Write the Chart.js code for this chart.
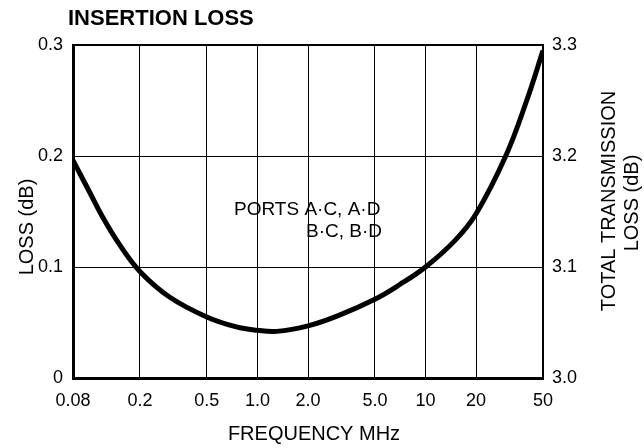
<!DOCTYPE html>
<html>
<head>
<meta charset="utf-8">
<script src="https://cdn.jsdelivr.net/npm/chart.js@4"></script>
<style>
  body { margin: 0; background: #fff; }
  canvas { display: block; }
</style>
</head>
<body>
<canvas id="myChart" width="644" height="448"></canvas>
<script>
// frequency (MHz) and loss (dB)
const freqMHz = [0.08, 0.1, 0.12, 0.15, 0.2, 0.3, 0.5, 0.75, 1.0, 1.3, 2.0, 3.0, 5.0, 7.0, 10, 15, 20, 30, 40, 50];
const lossDb = [0.196, 0.168, 0.145, 0.121, 0.096, 0.073, 0.055, 0.046, 0.043, 0.042, 0.047, 0.056, 0.071, 0.084, 0.100, 0.124, 0.148, 0.200, 0.250, 0.295];

const xTicks = [0.08, 0.2, 0.5, 1, 2, 5, 10, 20, 50];
const xTickLabels = ['0.08', '0.2', '0.5', '1.0', '2.0', '5.0', '10', '20', '50'];
const yTickLabels = ['0', '0.1', '0.2', '0.3'];
const y2TickLabels = ['3.0', '3.1', '3.2', '3.3'];

const FONT = '"Liberation Sans", Arial, sans-serif';

// titles and the little note inside the plot
const textPlugin = {
    id: 'texts',
    afterDraw(chart) {
        const ctx = chart.ctx;
        const area = chart.chartArea;
        ctx.save();
        ctx.fillStyle = '#000';
        ctx.textBaseline = 'alphabetic';

        ctx.font = 'bold 22px ' + FONT;
        ctx.textAlign = 'left';
        ctx.fillText('INSERTION LOSS', 68, 25);

        ctx.font = '20px ' + FONT;
        ctx.textAlign = 'center';
        ctx.fillText('FREQUENCY MHz', 314, 440);

        // rotated axis titles
        const vtext = (txt, x, y) => {
            ctx.save();
            ctx.translate(x, y);
            ctx.rotate(-Math.PI / 2);
            ctx.textAlign = 'center';
            ctx.fillText(txt, 0, 0);
            ctx.restore();
        };
        vtext('LOSS (dB)', 33, 227);
        vtext('TOTAL TRANSMISSION', 615, 201);
        vtext('LOSS (dB)', 638, 203);

        ctx.font = '19px ' + FONT;
        ctx.textAlign = 'left';
        ctx.fillText('PORTS A\u00b7C, A\u00b7D', area.left + 161, 215);
        ctx.fillText('B\u00b7C, B\u00b7D', area.left + 233, 237);
        ctx.restore();
    }
};

let myChart = document.getElementById('myChart').getContext('2d');

const lineChart = new Chart(myChart, {
    type: 'line',
    data: {
        datasets: [{
            label: 'Insertion loss',
            data: freqMHz.map((f, i) => ({ x: f, y: lossDb[i] })),
            borderColor: '#000',
            borderWidth: 5,
            tension: 0.4,
            pointRadius: 0,
            fill: false,
            yAxisID: 'y'
        }]
    },
    options: {
        responsive: false,
        animation: false,
        devicePixelRatio: 1,
        layout: { padding: { top: 45, left: 0, right: 0, bottom: 0 } },
        plugins: {
            legend: { display: false },
            tooltip: { enabled: false }
        },
        scales: {
            x: {
                type: 'logarithmic',
                min: 0.08,
                max: 50,
                afterBuildTicks: scale => {
                    scale.ticks = xTicks.map(v => ({ value: v }));
                },
                afterFit: scale => { scale.height = 70; },
                ticks: {
                    autoSkip: false,
                    maxRotation: 0,
                    padding: 12,
                    color: '#000',
                    font: { family: FONT, size: 18 },
                    callback: (value, index) => xTickLabels[index]
                },
                grid: {
                    color: '#000',
                    lineWidth: 1,
                    drawTicks: false
                },
                border: { display: true, color: '#000', width: 3 }
            },
            y: {
                position: 'left',
                min: 0,
                max: 0.3,
                ticks: {
                    stepSize: 0.1,
                    padding: 10,
                    color: '#000',
                    font: { family: FONT, size: 18 },
                    callback: (value, index) => yTickLabels[index]
                },
                afterFit: scale => { scale.width = 73; },
                grid: {
                    color: '#000',
                    lineWidth: ctx => (ctx.index === 3 ? 2 : 1),
                    drawTicks: false
                },
                border: { display: true, color: '#000', width: 3 }
            },
            y2: {
                position: 'right',
                min: 3.0,
                max: 3.3,
                ticks: {
                    stepSize: 0.1,
                    padding: 9,
                    color: '#000',
                    font: { family: FONT, size: 18 },
                    callback: (value, index) => y2TickLabels[index]
                },
                afterFit: scale => { scale.width = 101; },
                grid: { display: false, drawTicks: false },
                border: { display: true, color: '#000', width: 2 }
            }
        }
    },
    plugins: [textPlugin]
});
</script>
</body>
</html>
